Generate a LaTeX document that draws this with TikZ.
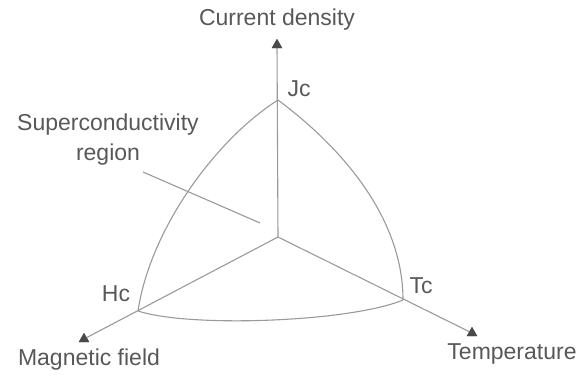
\documentclass[tikz,border=0pt]{standalone}
\usepackage{fontspec}
\setmainfont{Liberation Sans}
\usetikzlibrary{shapes.geometric}
\definecolor{linegray}{HTML}{9A9A9A}
\definecolor{textgray}{HTML}{585858}
\definecolor{tipgray}{HTML}{4A4A4A}
\tikzset{
  lbl/.style={text=textgray, inner sep=0pt, font=\fontsize{23}{27}\selectfont},
  axisline/.style={draw=linegray, line width=1.1pt},
  arcline/.style={draw=linegray, line width=1.1pt},
  tip/.style={regular polygon, regular polygon sides=3, fill=tipgray, inner sep=0pt, minimum size=12pt},
}
\begin{document}
\begin{tikzpicture}[x=1pt,y=-1pt]
\useasboundingbox (0,0) rectangle (581,380);
% key points
\coordinate (O) at (278,237);
\coordinate (Jc) at (278,100);
\coordinate (Hc) at (138,311);
\coordinate (Tc) at (403,300);
% arrow-end markers
\node[tip] (tJ) at (277,45) {};
\node[tip] (tH) at (84,339) {};
\node[tip] (tT) at (472,333) {};
% axes
\draw[axisline] (O) -- (tJ.center);
\draw[axisline] (O) -- (tH.center);
\draw[axisline] (O) -- (tT.center);
\node[tip] at (tJ) {};
\node[tip] at (tH) {};
\node[tip] at (tT) {};
% boundary arcs
\draw[arcline] (Jc) .. controls (215,140) and (150,230) .. (Hc);
\draw[arcline] (Jc) .. controls (345,150) and (403,220) .. (Tc);
\draw[arcline] (Hc) .. controls (190,328) and (350,322) .. (Tc);
% labels
\node[lbl] (cd) at (277,20) {Current density};
\node[lbl] (jc) at (299,89) {Jc};
\node[lbl] (hc) at (116,294) {Hc};
\node[lbl] (tc) at (421,286) {Tc};
\node[lbl] (mf) at (89,360) {Magnetic field};
\node[lbl] (tp) at (512,354) {Temperature};
\node[lbl, align=center] (sr) at (108,140) {Superconductivity\\[3pt]region};
\coordinate (ls) at (143,172);
\coordinate (le) at (260,223);
\draw[axisline] (ls) -- (le);
\end{tikzpicture}
\end{document}
